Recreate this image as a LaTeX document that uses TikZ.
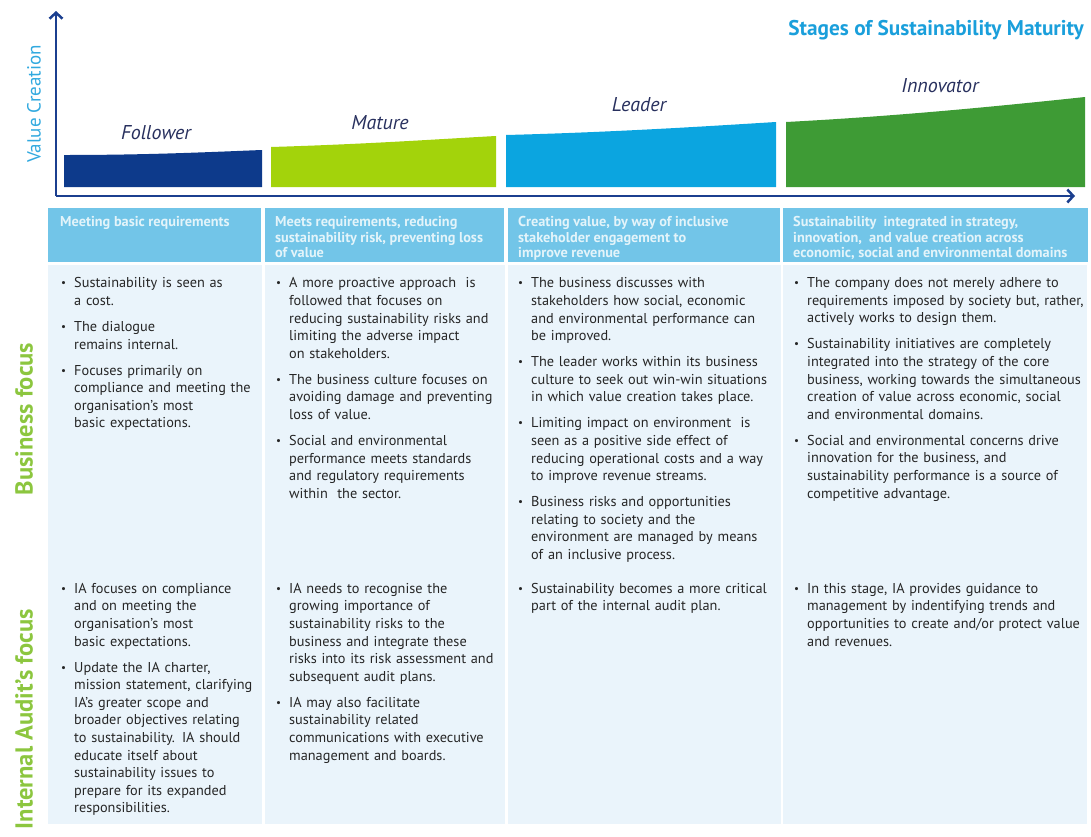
\documentclass[tikz,border=0pt]{standalone}
\usepackage{fontspec}
\setmainfont{PT Sans}
\usepackage{tikz}
\usetikzlibrary{positioning,arrows.meta}
\usepackage{xcolor}
\definecolor{axisblue}{HTML}{1B3F8F}
\definecolor{follow}{HTML}{0D3A8B}
\definecolor{mature}{HTML}{A3D30B}
\definecolor{leader}{HTML}{0BA5E0}
\definecolor{innov}{HTML}{3E9B35}
\definecolor{stagenavy}{HTML}{28305E}
\definecolor{titleblue}{HTML}{1A9FDB}
\definecolor{headblue}{HTML}{72C5E8}
\definecolor{bodyblue}{HTML}{EAF4FB}
\definecolor{rowgreen}{HTML}{8CC63F}
\definecolor{bodytext}{HTML}{262626}
\tikzstyle{axis}=[line width=2.5pt,draw=axisblue,-{Straight Barb[length=6pt,width=13pt]}]
\tikzstyle{stage}=[font=\fontsize{20}{22}\selectfont\itshape,text=stagenavy,inner sep=0]
\tikzstyle{headcell}=[anchor=north west,fill=headblue,inner sep=0,minimum height=54]
\tikzstyle{headtxt}=[anchor=north west,align=left,inner sep=0,text=white!80!headblue,font=\fontsize{14.3}{15.4}\selectfont\bfseries]
\tikzstyle{cell}=[anchor=north west,inner sep=0,text=bodytext,font=\fontsize{14.3}{17.6}\selectfont\raggedright]
\tikzstyle{rowlab}=[rotate=90,inner sep=0,text=rowgreen,font=\fontsize{24.5}{26}\selectfont\bfseries]
\newcommand{\bul}[1]{{\let\\\newline\noindent\hangindent=13pt\hangafter=1\hbox to 13pt{\raisebox{1pt}{\fontsize{11}{11}\selectfont\textbullet}\hfil}#1\par}\vskip 8.4pt}

\begin{document}
\begin{tikzpicture}[x=1pt,y=-1pt]
\useasboundingbox (0,0) rectangle (1091,836);

\fill[follow] (64,187) -- (64,155) .. controls (150,155) and (210,152) .. (262,150) -- (262,187) -- cycle;
\fill[mature] (271,187) -- (271,147) .. controls (370,144) and (440,139) .. (496,136) -- (496,187) -- cycle;
\fill[leader] (506,187) -- (506,135) .. controls (620,132) and (710,126) .. (776,122) -- (776,187) -- cycle;
\fill[innov] (786,187) -- (786,122) .. controls (900,116) and (1000,106) .. (1085,97) -- (1085,187) -- cycle;

\coordinate (origin) at (56,196);
\coordinate (ytip) at (56,11);
\coordinate (xtip) at (1075,196);
\draw[axis] (origin) -- (ytip);
\draw[axis] (origin) -- (xtip);

\node[stage] (follower) at (156,133) {Follower};
\node[stage] (mature) at (380,123) {Mature};
\node[stage] (leader) at (639,105) {Leader};
\node[stage] (innovator) at (940,86) {Innovator};

\node[anchor=east,inner sep=0,text=titleblue,font=\fontsize{21.3}{23}\selectfont\bfseries] (ttl) at (1084,30) {Stages of Sustainability Maturity};
\node[rotate=90,inner sep=0,text=titleblue!90!white,font=\fontsize{19}{21}\selectfont] (vc) at (34,104) {Value Creation};

\node[headcell,minimum width=213] (hc1) at (48,208) {};
\node[headcell,minimum width=239] (hc2) at (265,208) {};
\node[headcell,minimum width=272] (hc3) at (508,208) {};
\node[headcell,minimum width=305] (hc4) at (783,208) {};

\node[headtxt] (ht1) at (60,216.5) {Meeting basic requirements};
\node[headtxt] (ht2) at (275,216.5) {Meets requirements, reducing\\sustainability risk, preventing loss\\of value};
\node[headtxt] (ht3) at (518,216.5) {Creating value, by way of inclusive\\stakeholder engagement to\\improve revenue};
\node[headtxt] (ht4) at (793,216.5) {Sustainability\ \ integrated in strategy,\\innovation,\ \ and value creation across\\economic, social and environmental domains};

\fill[bodyblue] (48,265) rectangle (262,824);
\fill[bodyblue] (265,265) rectangle (505,824);
\fill[bodyblue] (508,265) rectangle (781,824);
\fill[bodyblue] (783,265) rectangle (1087,824);

\node[rowlab] (bfoc) at (24,419) {Business focus};
\node[rowlab,anchor=east] (iafoc) at (24,609) {Internal Audit’s focus};

\node[cell,text width=198] (bf1) at (61,277.5) {%
\bul{Sustainability is seen as\\a cost.}
\bul{The dialogue\\remains internal.}
\bul{Focuses primarily on\\compliance and meeting the\\organisation’s most\\basic expectations.}};
\node[cell,text width=232] (bf2) at (276,277.5) {%
\bul{A more proactive approach\ \ is\\followed that focuses on\\reducing sustainability risks and\\limiting the adverse impact\\on stakeholders.}
\bul{The business culture focuses on\\avoiding damage and preventing\\loss of value.}
\bul{Social and environmental\\performance meets standards\\and regulatory requirements\\within\ \ the sector.}};
\node[cell,text width=268] (bf3) at (518,277.5) {%
\bul{The business discusses with\\stakeholders how social, economic\\and environmental performance can\\be improved.}
\bul{The leader works within its business\\culture to seek out win-win situations\\in which value creation takes place.}
\bul{Limiting impact on environment\ \ is\\seen as a positive side effect of\\reducing operational costs and a way\\to improve revenue streams.}
\bul{Business risks and opportunities\\relating to society and the\\environment are managed by means\\of an inclusive process.}};
\node[cell,text width=296] (bf4) at (794,277.5) {%
\bul{The company does not merely adhere to\\requirements imposed by society but, rather,\\actively works to design them.}
\bul{Sustainability initiatives are completely\\integrated into the strategy of the core\\business, working towards the simultaneous\\creation of value across economic, social\\and environmental domains.}
\bul{Social and environmental concerns drive\\innovation for the business, and\\sustainability performance is a source of\\competitive advantage.}};

\node[cell,text width=198] (ia1) at (61,583) {%
\bul{IA focuses on compliance\\and on meeting the\\organisation’s most\\basic expectations.}
\bul{Update the IA charter,\\mission statement, clarifying\\IA’s greater scope and\\broader objectives relating\\to sustainability. IA should\\educate itself about\\sustainability issues to\\prepare for its expanded\\responsibilities.}};
\node[cell,text width=232] (ia2) at (276,583) {%
\bul{IA needs to recognise the\\growing importance of\\sustainability risks to the\\business and integrate these\\risks into its risk assessment and\\subsequent audit plans.}
\bul{IA may also facilitate\\sustainability related\\communications with executive\\management and boards.}};
\node[cell,text width=268] (ia3) at (518,583) {%
\bul{Sustainability becomes a more critical\\part of the internal audit plan.}};
\node[cell,text width=296] (ia4) at (794,583) {%
\bul{In this stage, IA provides guidance to\\management by indentifying trends and\\opportunities to create and/or protect value\\and revenues.}};

\end{tikzpicture}
\end{document}
